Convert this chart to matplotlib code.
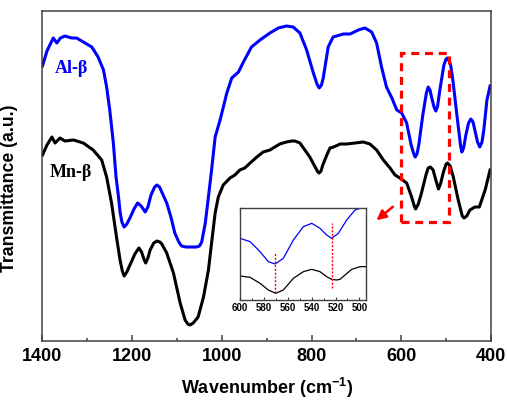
import matplotlib
matplotlib.use("Agg")
import matplotlib.pyplot as plt
from matplotlib.patches import Rectangle

plt.rcParams["font.family"] = ["Liberation Sans", "DejaVu Sans"]
plt.rcParams["font.weight"] = "bold"
plt.rcParams["mathtext.fontset"] = "custom"
plt.rcParams["mathtext.rm"] = "Liberation Sans:bold"
plt.rcParams["mathtext.bf"] = "Liberation Sans:bold"

# main spectra (wavenumber, transmittance in arbitrary units)
al_wn = [1400, 1390, 1376, 1368, 1360, 1350, 1335, 1324, 1309, 1290, 1276, 1264,
         1257, 1250, 1242, 1236, 1231, 1227, 1223, 1218, 1212, 1205, 1196, 1188,
         1180, 1171, 1165, 1158, 1150, 1145, 1139, 1134, 1123, 1113, 1105, 1096,
         1090, 1080, 1071, 1057, 1050, 1045, 1037, 1030, 1023, 1015, 1004, 989,
         978, 963, 952, 934, 915, 893, 874, 856, 841, 826, 811, 796, 788, 783,
         778, 774, 763, 752, 729, 714, 696, 681, 666, 655, 644, 633, 621, 610,
         599, 588, 578, 572, 569, 565, 561, 552, 544, 540, 536, 532, 527, 523,
         519, 514, 505, 500, 497, 493, 490, 485, 476, 468, 465, 461, 456, 450,
         445, 440, 436, 430, 425, 420, 416, 409, 402]
al_t = [275, 290, 303, 298, 303, 305, 303, 303, 299, 294, 284, 271,
        254, 231, 198, 164, 146, 129, 119, 114, 117, 123, 132, 138,
        135, 129, 134, 146, 154, 156, 154, 149, 138, 123, 108, 99,
        95, 94, 94, 94, 95, 99, 118, 144, 171, 204, 221, 248,
        263, 269, 279, 294, 301, 308, 313, 315, 314, 308, 291, 268, 257, 253,
        256, 263, 294, 304, 307, 307, 311, 313, 309, 298, 274, 254, 243, 231,
        228, 218, 196, 187, 184, 187, 196, 226, 248, 254, 251, 243, 234, 230,
        235, 251, 276, 282, 283, 280, 276, 261, 226, 196, 189, 193, 206, 218,
        222, 219, 211, 199, 194, 199, 211, 241, 255]

mn_wn = [1400, 1390, 1379, 1372, 1361, 1350, 1331, 1309, 1287, 1268, 1257, 1246,
         1235, 1227, 1222, 1218, 1212, 1205, 1194, 1185, 1179, 1174, 1170, 1165,
         1160, 1152, 1145, 1138, 1134, 1123, 1108, 1093, 1082, 1076, 1071, 1064,
         1053, 1041, 1030, 1023, 1015, 1008, 997, 982, 971, 960, 949, 937, 922,
         908, 893, 871, 856, 844, 837, 826, 815, 804, 792, 786, 783, 779, 775,
         766, 759, 751, 736, 722, 703, 685, 670, 655, 640, 625, 614, 603, 588,
         577, 571, 568, 562, 555, 545, 540, 535, 529, 523, 517, 512, 506, 500,
         497, 491, 484, 473, 464, 460, 454, 447, 436, 426, 413, 402]
mn_t = [186, 196, 204, 198, 203, 200, 201, 198, 191, 181, 164, 138,
        104, 81, 70, 65, 69, 76, 87, 93, 89, 82, 78, 83,
        91, 98, 100, 99, 97, 88, 68, 38, 21, 17, 16, 18,
        24, 44, 71, 98, 128, 144, 156, 163, 166, 171, 173, 178, 184,
        189, 191, 197, 199, 200, 200, 198, 191, 184, 174, 169, 168, 170, 176,
        186, 193, 194, 197, 197, 198, 199, 197, 191, 181, 173, 166, 163, 158,
        144, 135, 132, 137, 148, 166, 173, 174, 171, 161, 152, 158, 169, 177,
        178, 175, 164, 141, 125, 123, 125, 131, 134, 134, 151, 171]

# inset (600-495 cm-1 zoom)
in_al_wn = [600, 591.6, 583.2, 576.3, 570.7, 563.7, 555.3, 546.9, 539.9, 533,
            527.4, 523.2, 517.6, 510.6, 503.6, 499.4, 494.7]
in_al_t = [185, 175, 145, 115, 108, 125, 180, 220, 230, 215,
           195, 185, 200, 240, 270, 275, 275]
in_mn_wn = [600, 591.6, 583.2, 576.3, 570.1, 563.7, 555.3, 546.9, 539.9, 533,
            527.4, 523.2, 519, 516.2, 512, 506.4, 499.4, 494.7]
in_mn_t = [72, 68, 50, 30, 20, 30, 65, 85, 92, 85,
           70, 62, 60, 62, 75, 92, 100, 100]
peak_marks = [571, 523]
peak_lo = [20, 35]
peak_hi = [145, 232]

BLUE = "#0000ff"
SPINE = "#404040"

fig = plt.figure(figsize=(5.07, 4.03), dpi=100)
ax = fig.add_axes([0.0838, 0.1538, 0.8846, 0.8189])

ax.plot(al_wn, al_t, color=BLUE, lw=2.2, solid_joinstyle="round")
ax.plot(mn_wn, mn_t, color="black", lw=2.2, solid_joinstyle="round")

ax.set_xlim(1400, 400)
ax.set_ylim(0, 330)
ax.set_yticks([])
ax.set_xticks([1400, 1200, 1000, 800, 600, 400])
ax.set_xticks([1300, 1100, 900, 700, 500], minor=True)
ax.tick_params(axis="x", which="major", direction="in", length=4.5, width=1.1,
               labelsize=13, pad=5, color=SPINE)
ax.tick_params(axis="x", which="minor", direction="in", length=2.5, width=1.1,
               color=SPINE)
for s in ax.spines.values():
    s.set_linewidth(1.1)
    s.set_color(SPINE)

ax.set_xlabel(r"Wavenumber (cm$^{\mathbf{-1}}$)", fontsize=13, fontweight="bold",
              labelpad=8)
ax.set_ylabel("Transmittance (a.u.)", fontsize=12.7, fontweight="bold")
ax.yaxis.set_label_coords(-0.055, 0.462)

ax.text(1372, 273, "Al-β", color=BLUE, fontsize=13, fontweight="bold",
        family=["Liberation Serif", "DejaVu Serif"], va="center", ha="left")
ax.text(1383, 169, "Mn-β", color="black", fontsize=13, fontweight="bold",
        family=["Liberation Serif", "DejaVu Serif"], va="center", ha="left")

# dashed box around the 600-490 region and the arrow to the inset
ax.add_patch(Rectangle((600, 119), -107, 169, fill=False, edgecolor="red",
                       lw=2.3, ls=(0, (2.5, 1.8)), zorder=5))
ax.annotate("", xy=(660, 119), xytext=(614, 136),
            arrowprops=dict(arrowstyle="-|>", color="red", lw=1.8,
                            mutation_scale=14))

ins = fig.add_axes([0.4734, 0.2556, 0.2479, 0.2283])
ins.plot(in_al_wn, in_al_t, color=BLUE, lw=0.9)
ins.plot(in_mn_wn, in_mn_t, color="black", lw=0.9)
for x, lo, hi in zip(peak_marks, peak_lo, peak_hi):
    ins.plot([x, x], [lo, hi], color="red", lw=1.0, ls=(0, (1.5, 1.2)))
ins.set_xlim(600, 494.7)
ins.set_ylim(0, 276)
ins.set_yticks([])
ins.set_xticks([600, 580, 560, 540, 520, 500])
ins.set_xticks([590, 570, 550, 530, 510], minor=True)
ins.tick_params(axis="x", which="major", direction="in", length=2.5, width=0.8,
                labelsize=7, pad=2, color=SPINE)
ins.tick_params(axis="x", which="minor", direction="in", length=1.5, width=0.8,
                color=SPINE)
for s in ins.spines.values():
    s.set_linewidth(1.0)
    s.set_color(SPINE)

fig.savefig("out.png", dpi=100)
